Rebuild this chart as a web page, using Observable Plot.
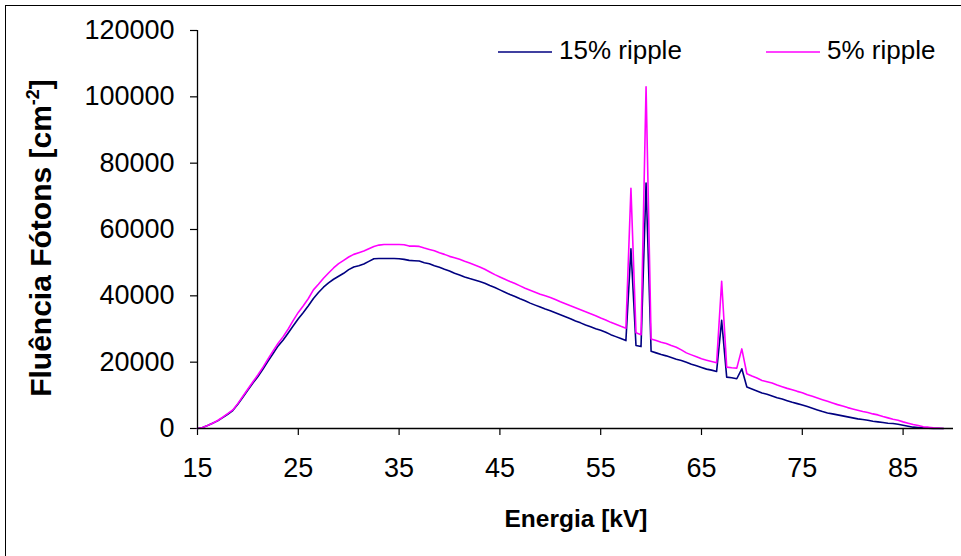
<!DOCTYPE html>
<html>
<head>
<meta charset="utf-8">
<script src="https://cdn.jsdelivr.net/npm/d3@7"></script>
<script src="https://cdn.jsdelivr.net/npm/@observablehq/plot@0.6"></script>
<style>
  html, body { margin: 0; padding: 0; background: #fff; overflow: hidden; width: 961px; height: 556px; }
  #frame { position: absolute; left: 5px; top: 5px; width: 2000px; height: 2000px; border: 1px solid #000; }
  #chart { position: absolute; left: 0; top: 0; }
</style>
</head>
<body>
<div id="frame"></div>
<div id="chart"></div>
<script>
const energies = [15,15.5,16,16.5,17,17.5,18,18.5,19,19.5,20,20.5,21,21.5,22,22.5,23,23.5,24,24.5,25,25.5,26,26.5,27,27.5,28,28.5,29,29.5,30,30.5,31,31.5,32,32.5,33,33.5,34,34.5,35,35.5,36,36.5,37,37.5,38,38.5,39,39.5,40,40.5,41,41.5,42,42.5,43,43.5,44,44.5,45,45.5,46,46.5,47,47.5,48,48.5,49,49.5,50,50.5,51,51.5,52,52.5,53,53.5,54,54.5,55,55.5,56,56.5,57,57.5,58,58.5,59,59.5,60,60.5,61,61.5,62,62.5,63,63.5,64,64.5,65,65.5,66,66.5,67,67.5,68,68.5,69,69.5,70,70.5,71,71.5,72,72.5,73,73.5,74,74.5,75,75.5,76,76.5,77,77.5,78,78.5,79,79.5,80,80.5,81,81.5,82,82.5,83,83.5,84,84.5,85,85.5,86,86.5,87,87.5,88,88.5,89];

const ripple15 = [0,300,900,1600,2300,3300,4300,5400,7300,9400,11600,13700,15700,17900,20300,22600,24900,26700,28800,31000,33100,35000,37000,39200,41000,42600,43900,45000,45900,46800,47900,48700,49100,49600,50400,51200,51250,51250,51250,51250,51200,51000,50700,50600,50500,50000,49700,49100,48600,48000,47500,46800,46300,45700,45200,44800,44300,43800,43100,42500,41800,41100,40400,39800,39100,38500,37800,37200,36600,36000,35500,34900,34300,33700,33100,32400,31850,31200,30700,30100,29600,29000,28300,27700,27100,26500,54200,25000,24700,74000,23300,22800,22300,21900,21400,20900,20500,20000,19400,18900,18400,17900,17600,17200,32600,15500,15300,15000,18000,12500,11900,11300,10700,10300,9800,9300,8900,8400,7900,7500,7100,6600,6100,5600,5100,4700,4400,4100,3800,3500,3200,2900,2700,2500,2200,2000,1800,1600,1500,1300,1000,700,400,300,200,100,0,0,0];

const ripple5 = [0,300,900,1600,2400,3400,4500,5600,7500,9700,11900,14100,16200,18500,21000,23400,25700,27700,30000,32600,35000,37000,39200,41800,43500,45300,46900,48400,49700,50700,51700,52500,53000,53500,54200,54900,55300,55500,55500,55500,55500,55400,55000,55000,54900,54400,54000,53600,53000,52500,51900,51500,51000,50400,49900,49300,48700,48000,47200,46400,45700,45000,44300,43700,43000,42300,41700,41100,40500,40000,39500,38900,38200,37600,37000,36400,35800,35200,34600,34000,33300,32700,32000,31400,30800,30250,72400,28850,28300,103000,27000,26500,26000,25600,25000,24500,23700,22800,22200,21600,21000,20600,20200,19800,44400,18500,18300,18200,24000,16500,15800,15200,14500,14100,13700,13100,12600,12100,11700,11200,10800,10200,9700,9200,8700,8200,7700,7200,6800,6300,5900,5500,5100,4800,4400,4100,3600,3200,2800,2500,2000,1600,1200,900,500,400,200,100,0];

const xTicks = [15,25,35,45,55,65,75,85];
const yTicks = [0,20000,40000,60000,80000,100000,120000];
const seriesNames = ["15% ripple", "5% ripple"];
const seriesColors = ["#000080", "#FF00FF"];

const rows15 = energies.map((e, i) => ({e, v: ripple15[i]}));
const rows5 = energies.map((e, i) => ({e, v: ripple5[i]}));

const font = "'Liberation Sans', Arial, sans-serif";

const chart = Plot.plot({
  width: 961,
  height: 556,
  marginLeft: 197,
  marginRight: 8,
  marginTop: 30,
  marginBottom: 128,
  style: {fontFamily: font, background: "transparent", color: "#000", overflow: "visible"},
  x: {domain: [15, 90]},
  y: {domain: [0, 120000]},
  marks: [
    Plot.axisX({ticks: xTicks, tickSize: 7, tickPadding: 22, fontSize: 27, label: null, tickFormat: d3.format("d"), stroke: "#000", strokeWidth: 1.2}),
    Plot.axisY({ticks: yTicks, tickSize: 7, tickPadding: 16, fontSize: 27, label: null, tickFormat: d3.format("d"), stroke: "#000", strokeWidth: 1.2}),
    Plot.line(rows15, {x: "e", y: "v", stroke: seriesColors[0], strokeWidth: 1.6}),
    Plot.line(rows5, {x: "e", y: "v", stroke: seriesColors[1], strokeWidth: 1.6}),
    Plot.ruleY([0], {stroke: "#000", strokeWidth: 1.3}),
    Plot.ruleX([15], {stroke: "#000", strokeWidth: 1.3})
  ]
});

const svg = d3.select(chart);

// x axis title
svg.append("text")
  .attr("x", 576).attr("y", 527)
  .attr("text-anchor", "middle")
  .attr("font-family", font).attr("font-weight", "bold").attr("font-size", 24.5)
  .attr("fill", "#000")
  .text("Energia [kV]");

// y axis title
const yt = svg.append("text")
  .attr("transform", "translate(51,238) rotate(-90)")
  .attr("text-anchor", "middle")
  .attr("font-family", font).attr("font-weight", "bold").attr("font-size", 30)
  .attr("fill", "#000");
yt.append("tspan").text("Fluência Fótons [cm");
yt.append("tspan").attr("dy", -12).attr("font-size", 18).text("-2");
yt.append("tspan").attr("dy", 12).text("]");

// legend
const legendItems = [
  {name: seriesNames[0], color: seriesColors[0], x: 498},
  {name: seriesNames[1], color: seriesColors[1], x: 766}
];
for (const it of legendItems) {
  svg.append("line")
    .attr("x1", it.x).attr("x2", it.x + 54).attr("y1", 52).attr("y2", 52)
    .attr("stroke", it.color).attr("stroke-width", 1.6);
  svg.append("text")
    .attr("x", it.x + 61).attr("y", 58.5)
    .attr("text-anchor", "start")
    .attr("font-family", font).attr("font-size", 26).attr("fill", "#000")
    .text(it.name);
}

document.getElementById("chart").appendChild(chart);
</script>
</body>
</html>
